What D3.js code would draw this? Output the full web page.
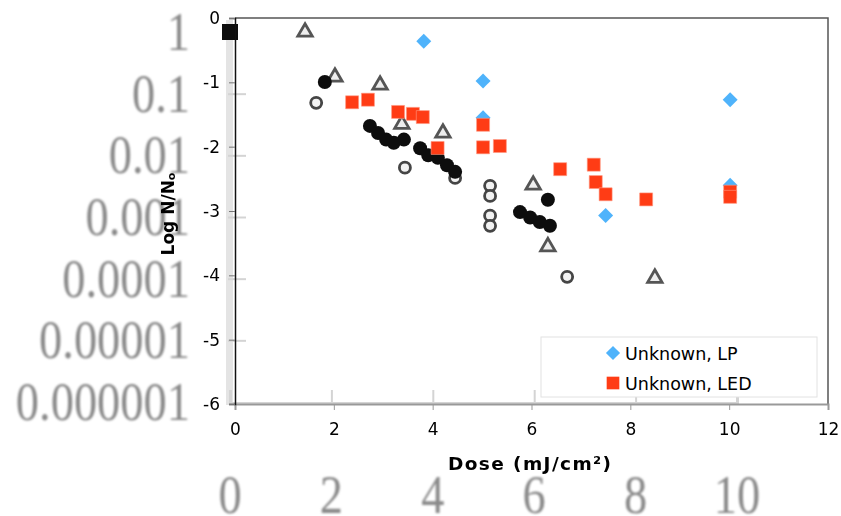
<!DOCTYPE html>
<meta charset="utf-8">
<html>
<head>
<script src="https://d3js.org/d3.v7.min.js"></script>
<style>
  body { margin: 0; background: #fff; }
  svg { display: block; }
</style>
</head>
<body>
<script>
// foreground series (log N/No vs dose)
var lpDose = [3.82, 5.02, 5.02, 10.02, 10.02, 7.5];
var lpLog  = [-0.36, -0.98, -1.55, -1.27, -2.6, -3.07];
var ledDose = [2.37, 2.69, 3.3, 3.6, 3.8, 4.1, 5.02, 5.02, 5.36, 6.58, 7.26, 7.3, 7.5, 8.32, 10.02, 10.02];
var ledLog  = [-1.31, -1.27, -1.46, -1.49, -1.54, -2.02, -1.66, -2.01, -1.99, -2.35, -2.28, -2.55, -2.74, -2.82, -2.70, -2.78];
var xTicks = [0, 2, 4, 6, 8, 10, 12];
var yTicks = [0, -1, -2, -3, -4, -5, -6];

// background (scanned) chart, survival fraction vs dose
var bgSquare = [[0, 1]];
var bgSolid = [[1.87, 0.155], [2.76, 0.030], [2.92, 0.023], [3.08, 0.018], [3.23, 0.016], [3.43, 0.018],
               [3.75, 0.013], [3.91, 0.010], [4.10, 0.0091], [4.28, 0.0069], [4.44, 0.0054],
               [5.72, 0.0012], [5.92, 0.00098], [6.11, 0.00083], [6.31, 0.00072], [6.27, 0.0019]];
var bgOpen = [[1.70, 0.071], [3.45, 0.0063], [4.44, 0.0043], [5.13, 0.0032], [5.13, 0.0022],
              [5.13, 0.00105], [5.13, 0.00072], [6.65, 0.000107]];
var bgTri = [[1.48, 1], [2.07, 0.186], [2.96, 0.138], [3.39, 0.032], [4.20, 0.023],
             [5.98, 0.0033], [6.27, 0.00033], [8.38, 0.000102]];
var bgYTicks = [1, 0.1, 0.01, 0.001, 0.0001, 0.00001, 0.000001];
var bgYLabels = ["1", "0.1", "0.01", "0.001", "0.0001", "0.00001", "0.000001"];
var bgXTicks = [0, 2, 4, 6, 8, 10];

var W = 841, H = 516;
var svg = d3.select("body").append("svg").attr("width", W).attr("height", H);

var defs = svg.append("defs");
defs.append("filter").attr("id", "blur").append("feGaussianBlur").attr("stdDeviation", 0.9);
defs.append("filter").attr("id", "blur2").append("feGaussianBlur").attr("stdDeviation", 0.6);

var x = d3.scaleLinear().domain([0, 12]).range([235, 828]),
    y = d3.scaleLinear().domain([-6, 0]).range([404, 18]);
var bx = d3.scaleLinear().domain([0, 10]).range([230, 737]),
    by = d3.scaleLog().domain([0.000001, 1]).range([402, 32]);

// ---- background layer
var bg = svg.append("g");
bg.append("rect").attr("x", 226).attr("y", 20).attr("width", 7).attr("height", 385).attr("fill", "#e4e4e4");

bg.append("g").attr("transform", "translate(228,0)")
  .call(d3.axisRight(by).tickValues(bgYTicks.slice(1, 6)).tickSize(18).tickFormat(""))
  .call(function(g){ g.select(".domain").remove(); g.selectAll("line").attr("stroke", "#d4d4d4").attr("stroke-width", 2); });

bg.append("g").attr("transform", "translate(0,403)")
  .call(d3.axisTop(bx).tickValues(bgXTicks.slice(1, 5)).tickSize(13).tickFormat(""))
  .call(function(g){ g.select(".domain").attr("stroke", "#d4d4d4").attr("stroke-width", 3); g.selectAll("line").attr("stroke", "#d4d4d4").attr("stroke-width", 2); });

var bgText = bg.append("g").attr("filter", "url(#blur)")
  .style("font-family", "'Liberation Serif', serif").style("font-size", "54px").attr("fill", "#8a8a8a");

bgText.selectAll(".ylab").data(bgYTicks).enter().append("text")
  .attr("transform", function(d){ return "translate(190," + (by(d) + 18) + ") scale(0.86,1)"; })
  .attr("text-anchor", "end")
  .text(function(d, i){ return bgYLabels[i]; });

bgText.selectAll(".xlab").data(bgXTicks).enter().append("text")
  .attr("transform", function(d){ return "translate(" + bx(d) + ",513) scale(0.86,1)"; })
  .attr("text-anchor", "middle")
  .text(function(d){ return d; });

var bgMarks = bg.append("g").attr("filter", "url(#blur2)");
bgMarks.selectAll(".bsq").data(bgSquare).enter().append("rect")
  .attr("x", function(d){ return bx(d[0]) - 8; }).attr("y", function(d){ return by(d[1]) - 8; })
  .attr("width", 16).attr("height", 16).attr("fill", "#111");
bgMarks.selectAll(".btri").data(bgTri).enter().append("path")
  .attr("d", d3.symbol().type(d3.symbolTriangle).size(90))
  .attr("transform", function(d){ return "translate(" + bx(d[0]) + "," + by(d[1]) + ")"; })
  .attr("fill", "#eee").attr("stroke", "#555").attr("stroke-width", 2.8);
bgMarks.selectAll(".bopen").data(bgOpen).enter().append("circle")
  .attr("cx", function(d){ return bx(d[0]); }).attr("cy", function(d){ return by(d[1]); })
  .attr("r", 5.5).attr("fill", "#f2f2f2").attr("stroke", "#444").attr("stroke-width", 2.8);
bgMarks.selectAll(".bsolid").data(bgSolid).enter().append("circle")
  .attr("cx", function(d){ return bx(d[0]); }).attr("cy", function(d){ return by(d[1]); })
  .attr("r", 7).attr("fill", "#0a0a0a");

// ---- foreground chart
svg.append("path")
  .attr("d", "M" + x(0) + "," + y(0) + "H" + x(12) + "V" + y(-6))
  .attr("fill", "none").attr("stroke", "#555").attr("stroke-width", 1.5);

var fmt = function(d){ return String(d); };

var xAxis = svg.append("g").attr("transform", "translate(0," + y(-6) + ")")
  .call(d3.axisBottom(x).tickValues(xTicks).tickSize(6).tickPadding(13).tickFormat(fmt));
xAxis.select(".domain").attr("stroke", "#999").attr("stroke-width", 2);
xAxis.selectAll("line").attr("stroke", "#999");

var yAxis = svg.append("g").attr("transform", "translate(" + x(0) + ",0)")
  .call(d3.axisLeft(y).tickValues(yTicks).tickSize(6).tickPadding(9).tickFormat(fmt));
yAxis.select(".domain").attr("stroke", "#111").attr("stroke-width", 1.5);
yAxis.selectAll("line").attr("stroke", "#777");

svg.selectAll(".tick text").style("font-family", "'DejaVu Sans', sans-serif").style("font-size", "17px").attr("fill", "#000");

var blue = "#4fb3fb", red = "#ff3c15";

svg.selectAll(".lp").data(lpDose).enter().append("path")
  .attr("d", d3.symbol().type(d3.symbolSquare).size(112))
  .attr("transform", function(d, i){ return "translate(" + x(d) + "," + y(lpLog[i]) + ") rotate(45)"; })
  .attr("fill", blue);

svg.selectAll(".led").data(ledDose).enter().append("path")
  .attr("d", d3.symbol().type(d3.symbolSquare).size(169))
  .attr("transform", function(d, i){ return "translate(" + x(d) + "," + y(ledLog[i]) + ")"; })
  .attr("fill", red).attr("stroke", "#ff9a85").attr("stroke-width", 0.6);

// axis titles
svg.append("text")
  .attr("x", 448).attr("y", 470)
  .style("font-family", "'DejaVu Sans', sans-serif").style("font-weight", "bold").style("font-size", "18.5px")
  .style("letter-spacing", "1.4px")
  .text("Dose (mJ/cm²)");

var yl = svg.append("text")
  .attr("transform", "translate(174,214) rotate(-90)")
  .attr("text-anchor", "middle")
  .style("font-family", "'DejaVu Sans', sans-serif").style("font-weight", "bold").style("font-size", "17px");
yl.append("tspan").text("Log N/N");
yl.append("tspan").attr("font-size", "11px").attr("dy", 1).text("o");

// legend
var leg = svg.append("g");
leg.append("rect").attr("x", 541).attr("y", 337).attr("width", 276).attr("height", 60)
  .attr("fill", "#fff").attr("stroke", "#e2e2e2");
var legItems = [{name: "Unknown, LP", color: blue, type: "diamond"}, {name: "Unknown, LED", color: red, type: "square"}];
legItems.forEach(function(d, i){
  var cy = 353 + i * 30;
  leg.append("path")
    .attr("d", d3.symbol().type(d3.symbolSquare).size(d.type == "diamond" ? 100 : 160))
    .attr("transform", "translate(613," + cy + ")" + (d.type == "diamond" ? " rotate(45)" : ""))
    .attr("fill", d.color);
  leg.append("text").attr("x", 625).attr("y", cy + 6.5)
    .style("font-family", "'DejaVu Sans', sans-serif").style("font-size", "17.5px")
    .text(d.name);
});
</script>
</body>
</html>
